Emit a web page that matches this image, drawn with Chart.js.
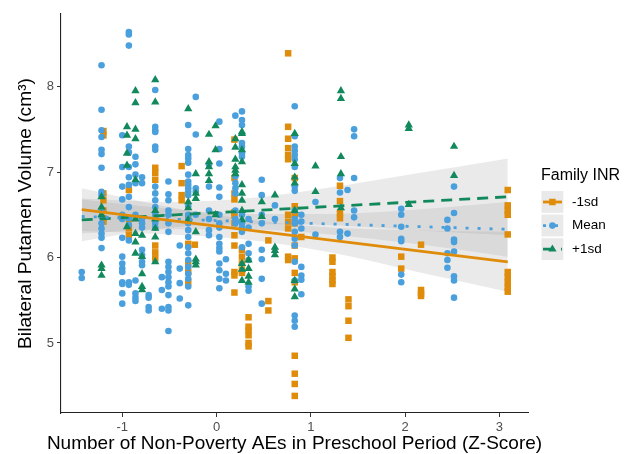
<!DOCTYPE html>
<html>
<head>
<meta charset="utf-8">
<script src="https://cdn.jsdelivr.net/npm/chart.js@4.4.0/dist/chart.umd.min.js"></script>
<style>
  html, body { margin: 0; padding: 0; background: #ffffff; }
  #wrap { position: relative; width: 630px; height: 454px; }
</style>
</head>
<body>
<div id="wrap"><canvas id="putamen" width="630" height="454"></canvas></div>
<script>
// Scatter points grouped by AE z-score column: [x, [volumes...]]
const lowPoints = [
  [-1.2, [7.48, 7.43, 6.75, 6.67, 6.55, 6.46, 6.42]],
  [-0.93, [6.79, 6.45, 6.34, 6.26]],
  [-0.65, [7.05, 6.99, 6.91, 6.14, 6.06, 5.99]],
  [-0.37, [7.07, 6.87, 6.73, 6.67]],
  [-0.3, [6.48, 6.16, 5.93, 5.83, 5.71]],
  [-0.23, [6.15]],
  [0.19, [7.38, 6.93, 6.75, 6.68, 6.53, 6.49, 6.40, 6.26, 6.14, 5.83, 5.79, 5.59]],
  [0.27, [6.09, 6.01, 5.93, 5.85, 5.82]],
  [0.34, [5.30, 5.19, 5.15, 5.09, 5.00, 4.96]],
  [0.55, [6.20, 5.49, 5.38]],
  [0.76, [8.39, 7.53, 7.39, 7.28, 7.20, 7.15, 6.50, 6.42, 6.34, 6.01, 5.97]],
  [0.83, [6.93, 6.60, 6.50, 6.40, 6.14, 5.99, 5.82, 5.71, 4.85, 4.64, 4.52, 4.38]],
  [0.9, [6.24]],
  [1.23, [6.00, 5.95, 5.83, 5.78, 5.73, 5.69]],
  [1.31, [6.84, 6.66, 6.52, 6.46]],
  [1.4, [5.51, 5.43, 5.26, 5.06]],
  [1.96, [6.01, 5.87]],
  [2.17, [6.15, 5.62, 5.58, 5.55]],
  [3.09, [6.79, 6.61, 6.55, 6.50, 6.27, 5.83, 5.77, 5.71, 5.65, 5.60]]
];

const meanPoints = [
  [-1.43, [5.83, 5.76]],
  [-1.22, [8.25, 7.73, 7.49, 7.41, 7.26, 7.21, 7.05, 6.77, 6.73, 6.55, 6.48, 6.40, 6.34, 6.28, 6.23, 6.11]],
  [-1.0, [7.43, 7.06, 6.83, 6.68, 6.50, 6.45, 6.23, 6.01, 5.93, 5.87, 5.83, 5.71, 5.69, 5.58, 5.46]],
  [-0.93, [8.64, 8.61, 8.48, 7.30, 7.23, 7.06, 6.94, 6.85, 6.71, 6.59, 6.46, 6.38, 6.20, 5.71, 5.68]],
  [-0.86, [7.18, 7.09, 6.97, 6.87, 6.50, 5.73, 5.58, 5.53, 5.49]],
  [-0.79, [6.94, 6.87, 6.45, 6.40, 6.35, 6.09, 6.03, 5.95, 5.91]],
  [-0.72, [5.56, 5.53, 5.42, 5.38]],
  [-0.65, [7.96, 7.53, 7.49, 7.47, 7.30, 7.26, 6.83, 6.75, 6.67, 6.59, 6.50, 6.45, 6.40, 6.35]],
  [-0.58, [5.77, 5.62, 5.40]],
  [-0.51, [6.89, 6.74, 6.67, 6.55, 6.50, 6.40, 6.30, 5.95, 5.89, 5.83, 5.77, 5.71, 5.66, 5.56, 5.42, 5.38, 5.14]],
  [-0.39, [6.14, 5.87, 5.70, 5.52]],
  [-0.3, [7.55, 7.27, 7.20, 7.16, 7.11, 6.97, 6.89, 6.85, 6.81, 6.77, 6.73, 6.60, 6.50, 6.45, 6.40, 6.32, 6.24, 6.12, 6.05, 5.97, 5.89, 5.81, 5.75, 5.66, 5.44]],
  [-0.22, [7.88, 7.44, 6.81, 6.77, 6.50]],
  [-0.08, [7.09, 6.83, 6.55, 6.45, 6.32, 6.26]],
  [0.03, [7.59, 7.27, 7.10, 6.82, 6.71, 6.50, 6.40, 6.35, 6.24, 6.16, 6.11, 6.07, 5.93, 5.85, 5.75, 5.64]],
  [0.1, [5.98, 5.81, 5.73]],
  [0.2, [7.66, 6.95, 6.87, 6.81, 6.75, 6.55, 6.45, 6.40]],
  [0.27, [7.71, 7.61, 7.55, 7.34, 7.30, 7.22, 7.18, 6.50, 6.40, 6.35, 6.30, 6.12]],
  [0.34, [6.45, 6.35, 6.16, 6.05, 5.97, 5.66, 5.61]],
  [0.48, [6.91, 6.73, 6.50, 6.40, 6.09, 5.98, 5.75, 5.46]],
  [0.62, [6.61, 6.45]],
  [0.83, [7.77, 7.42, 7.30, 7.25, 7.20, 7.15, 7.06, 6.83, 6.78, 6.55, 6.45, 6.40, 6.30, 6.22, 6.14, 5.95, 5.73, 5.32, 5.26, 5.19]],
  [0.9, [6.50, 6.42, 6.34, 5.89, 5.79, 5.74, 5.57]],
  [1.05, [6.65, 6.27]],
  [1.31, [6.93, 6.76, 6.30, 6.24]],
  [1.39, [6.79, 6.28]],
  [1.46, [7.50, 7.42, 6.93, 6.55, 6.47]],
  [1.96, [6.57, 6.50, 6.36, 6.22, 6.19, 5.80, 5.71]],
  [2.45, [6.44, 6.34, 6.05, 5.97, 5.88]],
  [2.52, [6.83, 6.52, 6.21, 6.18, 6.07, 5.78, 5.73, 5.53]]
];

const highPoints = [
  [-1.22, [6.71, 6.59, 6.50, 5.91, 5.87, 5.79]],
  [-0.95, [7.53, 7.43, 7.22, 7.08, 6.36]],
  [-0.86, [7.95, 7.81, 7.50, 7.39, 6.91, 6.45, 6.28, 6.18, 6.05]],
  [-0.79, [6.26, 6.01, 5.81, 5.66, 5.62]],
  [-0.65, [8.08, 7.82, 6.55, 6.45, 6.34, 6.24, 5.95]],
  [-0.3, [7.74, 6.65, 6.58, 6.44]],
  [-0.22, [6.98, 6.75, 6.69, 6.30, 5.98, 5.95, 5.91]],
  [-0.08, [7.44, 7.12, 7.06, 6.98, 6.90]],
  [-0.01, [7.54, 7.26, 6.50]],
  [0.2, [7.39, 7.29, 7.15, 7.06, 7.02, 6.98]],
  [0.27, [7.47, 7.45, 7.26, 7.12, 6.85, 6.75, 6.67, 6.55, 6.44, 5.93, 5.86, 5.73]],
  [0.34, [5.97, 5.87, 5.78, 5.71]],
  [0.48, [6.65, 6.48]],
  [0.62, [6.73, 6.12, 6.08, 6.03]],
  [0.83, [7.45, 7.10, 6.94, 6.87, 6.55, 5.73, 5.63, 5.54]],
  [1.05, [7.07, 6.77]],
  [1.32, [7.95, 7.86, 7.18, 6.98, 6.58]],
  [2.04, [7.55, 7.51, 6.62]],
  [2.52, [7.30, 6.96]]
];

// Fitted simple slopes (end points) and their confidence bands
const fitX = [-1.43, 3.09];
const lowFit = [6.56, 5.95];
const meanFit = [6.48, 6.33];
const highFit = [6.44, 6.71];

const bandX = [-1.43, -0.5, 0.3, 1.2, 2.1, 3.09];
const lowUpper = [6.81, 6.59, 6.45, 6.35, 6.32, 6.30];
const lowLower = [6.31, 6.27, 6.21, 6.06, 5.84, 5.60];
const meanUpper = [6.68, 6.57, 6.51, 6.51, 6.56, 6.65];
const meanLower = [6.28, 6.33, 6.33, 6.27, 6.16, 6.01];
const highUpper = [6.69, 6.65, 6.69, 6.82, 6.98, 7.16];
const highLower = [6.19, 6.35, 6.39, 6.38, 6.32, 6.26];

const xTicks = [-1, 0, 1, 2, 3];
const yTicks = [5, 6, 7, 8];
const groupLabels = ['-1sd', 'Mean', '+1sd'];
const xTitle = 'Number of Non-Poverty AEs in Preschool Period (Z-Score)';
const yTitle = 'Bilateral Putamen Volume (cm³)';

const ORANGE = '#E08C0B';
const BLUE = '#4A9FDD';
const GREEN = '#12895D';
const BAND = 'rgba(150,150,150,0.2)';
const FONT = '"Liberation Sans", Arial, Helvetica, sans-serif';

Chart.defaults.font.family = FONT;

function expand(groups) {
  return groups.flatMap(([x, ys]) => ys.map(y => ({ x: x, y: y })));
}
function pairs(xs, ys) {
  return xs.map((x, i) => ({ x: x, y: ys[i] }));
}

function bandPair(lower, upper) {
  const base = { type: 'line', pointRadius: 0, borderWidth: 0, cubicInterpolationMode: 'monotone', order: 5 };
  return [
    { ...base, data: pairs(bandX, lower), fill: false },
    { ...base, data: pairs(bandX, upper), fill: '-1', backgroundColor: BAND }
  ];
}

function fitLine(ys, color, dash) {
  return {
    type: 'line', data: pairs(fitX, ys), borderColor: color, borderWidth: 2.8,
    borderDash: dash, pointRadius: 0, fill: false, order: 0
  };
}

const keyStyles = [
  { color: ORANGE, dash: [], point: 'rect', radius: 4.6 },
  { color: BLUE, dash: [3, 9], point: 'circle', radius: 3.3 },
  { color: GREEN, dash: [11, 7], point: 'triangle', radius: 4.8 }
];

// x title is wider than the panel, so it is drawn here instead of by the scale
// (the scale would squeeze it to the panel width). Legend mimics ggplot's.
const extras = {
  id: 'extras',
  afterDraw(chart) {
    const ctx = chart.ctx;
    const area = chart.chartArea;
    ctx.save();
    ctx.fillStyle = '#000';
    ctx.textBaseline = 'middle';
    ctx.textAlign = 'center';
    ctx.font = '19px ' + FONT;
    ctx.fillText(xTitle, (area.left + area.right) / 2, 444);

    ctx.textAlign = 'left';
    ctx.font = '16px ' + FONT;
    ctx.fillText('Family INR', 541, 176);
    keyStyles.forEach((k, i) => {
      const top = 191 + i * 23.6;
      const cy = top + 11;
      ctx.fillStyle = '#e9e9e9';
      ctx.fillRect(541.5, top, 21.8, 21.8);
      ctx.strokeStyle = k.color;
      ctx.lineWidth = 2.8;
      ctx.setLineDash(k.dash);
      ctx.beginPath();
      ctx.moveTo(543, cy);
      ctx.lineTo(562, cy);
      ctx.stroke();
      ctx.setLineDash([]);
      ctx.fillStyle = k.color;
      Chart.helpers.drawPoint(ctx, { pointStyle: k.point, radius: k.radius, rotation: 0, borderWidth: 0 }, 552.4, cy);
      ctx.fillStyle = '#000';
      ctx.font = '13.5px ' + FONT;
      ctx.fillText(groupLabels[i], 572, cy);
    });
    ctx.restore();
  }
};

new Chart(document.getElementById('putamen'), {
  type: 'scatter',
  data: {
    datasets: [
      ...bandPair(lowLower, lowUpper),
      ...bandPair(meanLower, meanUpper),
      ...bandPair(highLower, highUpper),
      { label: '-1sd', data: expand(lowPoints), pointStyle: 'rect', pointRadius: 4.6, backgroundColor: ORANGE, borderWidth: 0, order: 3 },
      { label: 'Mean', data: expand(meanPoints), pointStyle: 'circle', pointRadius: 3.3, backgroundColor: BLUE, borderWidth: 0, order: 2 },
      { label: '+1sd', data: expand(highPoints), pointStyle: 'triangle', pointRadius: 4.8, backgroundColor: GREEN, borderWidth: 0, order: 1 },
      fitLine(lowFit, ORANGE, []),
      fitLine(meanFit, BLUE, [3, 9]),
      fitLine(highFit, GREEN, [11, 7])
    ]
  },
  options: {
    responsive: false,
    animation: false,
    events: [],
    layout: { padding: { top: 14, right: 102, left: 0, bottom: 0 } },
    plugins: {
      legend: { display: false },
      tooltip: { enabled: false }
    },
    scales: {
      x: {
        type: 'linear',
        min: -1.65,
        max: 3.305,
        afterBuildTicks: s => { s.ticks = xTicks.map(v => ({ value: v })); },
        afterFit: s => { s.height = 41; },
        ticks: { color: '#4d4d4d', font: { size: 13 }, padding: 3 },
        grid: { drawOnChartArea: false, drawTicks: true, tickLength: 4, color: '#333' },
        border: { display: true, color: '#222', width: 1.1 },
        title: { display: false }
      },
      y: {
        type: 'linear',
        min: 4.18,
        max: 8.85,
        afterBuildTicks: s => { s.ticks = yTicks.map(v => ({ value: v })); },
        afterFit: s => { s.width = 61; },
        ticks: { color: '#4d4d4d', font: { size: 13 }, padding: 3 },
        grid: { drawOnChartArea: false, drawTicks: true, tickLength: 4, color: '#333' },
        border: { display: true, color: '#222', width: 1.1 },
        title: {
          display: true,
          text: yTitle,
          color: '#000',
          font: { size: 19.2, lineHeight: 1 },
          padding: { top: 16, bottom: 0 }
        }
      }
    }
  },
  plugins: [extras]
});
</script>
</body>
</html>
